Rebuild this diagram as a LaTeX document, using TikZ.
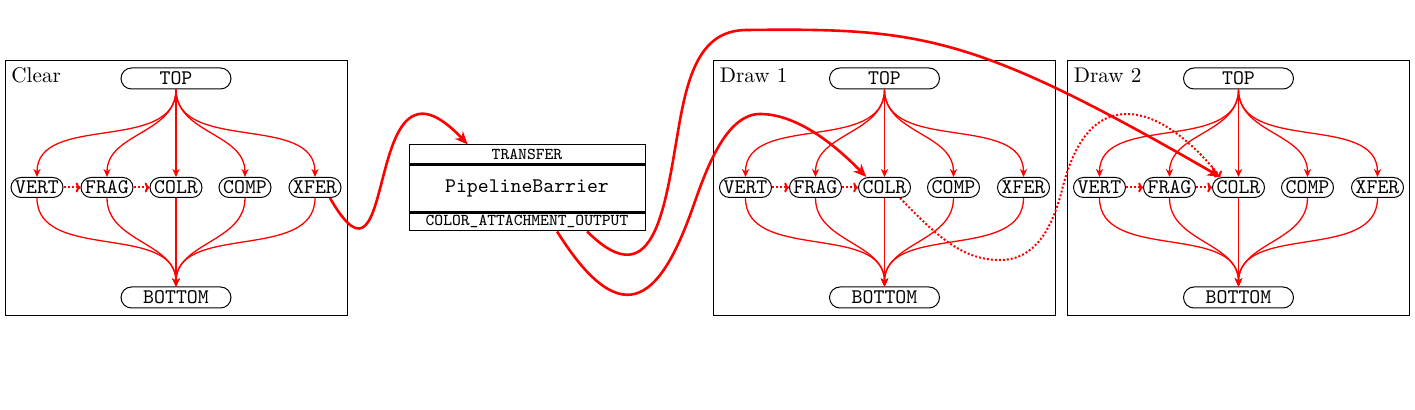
\documentclass[tikz,border=0pt]{standalone}
\usetikzlibrary{arrows.meta,calc}
\newcommand\mypanel[3]{%
\begin{scope}[shift={(#2,0)}]
  \draw[frame] (5,61) rectangle (347,316);
  \node[anchor=base west,inner sep=0pt,font=\fontsize{10.6}{12}\selectfont] (#1lab) at (11,83) {#3};
  \node[bigpill] (#1top) at (176,78.5) {TOP};
  \node[bigpill] (#1bot) at (176,297.5) {BOTTOM};
  \node[pill] (#1vert) at (37,187.5) {VERT};
  \node[pill] (#1frag) at (107,187.5) {FRAG};
  \node[pill] (#1colr) at (176,187.5) {COLR};
  \node[pill] (#1comp) at (245,187.5) {COMP};
  \node[pill] (#1xfer) at (315,187.5) {XFER};
  \foreach \n/\d in {vert/64,frag/44,comp/44,xfer/64} {
    \draw[edge] (#1top.south) .. controls +(0,\d) and +(0,-\d) .. (#1\n.north);
    \draw[edge] (#1\n.south) .. controls +(0,\d) and +(0,-\d) .. (#1bot.north);
  }
  \draw[edge] (#1top.south) -- (#1colr.north);
  \draw[edge] (#1colr.south) -- (#1bot.north);
  \draw[dotarrow] (#1vert.east) -- (#1frag.west);
  \draw[dotarrow] (#1frag.east) -- (#1colr.west);
\end{scope}}
\begin{document}
\begin{tikzpicture}[x=0.5pt,y=-0.5pt,
  pill/.style={draw,line width=0.5pt,rounded corners=5pt,minimum width=26pt,minimum height=10pt,inner sep=0pt,font=\ttfamily\fontsize{10.4}{12}\selectfont},
  bigpill/.style={pill,minimum width=55pt,minimum height=10.5pt,rounded corners=5.25pt},
  edge/.style={red,line width=0.65pt,-{Stealth[length=4pt,width=3.6pt,inset=1.2pt]}},
  dotarrow/.style={red,line width=1pt,dash pattern=on 1pt off 1pt,-{To[length=2.4pt,width=5pt]}},
  bigarrow/.style={red,line width=1.3pt,-{Stealth[length=6.5pt,width=5.5pt,inset=2pt]}},
  frame/.style={draw,line width=0.5pt},
  part/.style={draw,line width=0.5pt,minimum width=118pt,inner sep=0pt,font=\ttfamily\fontsize{8.3}{10}\selectfont}]
\useasboundingbox (0,0) rectangle (1415,410);
\mypanel{c}{0}{Clear}
\mypanel{d}{708.5}{Draw 1}
\mypanel{e}{1062.5}{Draw 2}
\node[part,minimum height=9.5pt] (tr) at (527,154.5) {TRANSFER};
\node[part,minimum height=24pt,font=\ttfamily\fontsize{10.4}{12}\selectfont] (pb) at (527,188) {PipelineBarrier};
\node[part,minimum height=9.5pt] (cao) at (527,221.5) {COLOR\_ATTACHMENT\_OUTPUT};
\draw[line width=1.1pt] (tr.south west) -- (tr.south east);
\draw[line width=1.1pt] (pb.south west) -- (pb.south east);
\draw[bigarrow] (cxfer.-35) .. controls (400,320) and (360,30) .. ($(tr.north west)!0.25!(tr.north east)$);
\draw[bigarrow] ($(cao.south west)!0.754!(cao.south east)$) .. controls (657,301) and (665.6,200) .. (680,120) .. controls (690,65) and (705,30) .. (747,30) .. controls (920,28) and (973,34) .. (ecolr.150);
\draw[bigarrow] ($(cao.south west)!0.627!(cao.south east)$) .. controls (626,341.5) and (663,291.6) .. (693,207) .. controls (705,173) and (725,114) .. (760,114) .. controls (800,114) and (840,150) .. (dcolr.150);
\draw[dotarrow] (dcolr.-34) .. controls (940,240) and (965,260) .. (1000,260) .. controls (1035,260) and (1052,228.8) .. (1062,190) .. controls (1072,150) and (1090,114) .. (1127,114) .. controls (1160,114) and (1195,145) .. (ecolr.150);
\end{tikzpicture}
\end{document}
